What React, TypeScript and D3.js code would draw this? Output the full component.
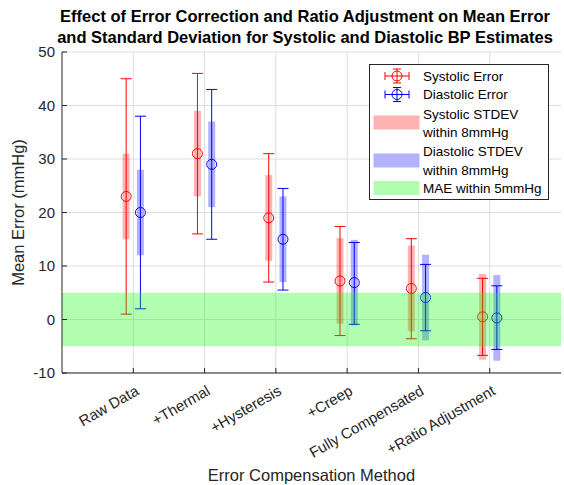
import React, {useEffect, useRef} from 'react';
import * as d3 from 'd3';

const categories = ['Raw Data', '+Thermal', '+Hysteresis', '+Creep', 'Fully Compensated', '+Ratio Adjustment'];

// systolic error: mean, lower / upper whisker ends
const sysMean = [23, 31, 19, 7.2, 5.8, 0.5];
const sysLow = [1, 16, 7, -3, -3.6, -6.7];
const sysHigh = [45, 46, 31, 17.4, 15.1, 7.7];
const sysStd = [8, 8, 8, 8, 8, 8];

// diastolic error
const diaMean = [20, 29, 15, 6.9, 4.1, 0.3];
const diaLow = [2, 15, 5.5, -0.9, -2.1, -5.6];
const diaHigh = [38, 43, 24.5, 14.4, 10.3, 6.3];
const diaStd = [8, 8, 8, 8, 8, 8];

const yTicks = [-10, 0, 10, 20, 30, 40, 50];
const maeBand = [-5, 5];

const FONT = '"Liberation Sans", Arial, Helvetica, sans-serif';

const App = () => {
    const ref = useRef<SVGSVGElement>(null);

    useEffect(() => {
        const width = 564, height = 485;
        const margin = {top: 52, left: 62, bottom: 112, right: 3};
        const svg = d3.select(ref.current);
        svg.selectAll('*').remove();
        svg.attr('width', width).attr('height', height);

        const x = d3.scaleLinear().domain([0, categories.length + 1]).range([margin.left, width - margin.right]);
        const y = d3.scaleLinear().domain([-10, 50]).range([height - margin.bottom, margin.top]);
        const off = 0.1;
        const cap = 5.5;

        // grid
        const grid = svg.append('g').attr('stroke', '#dedede').attr('stroke-width', 1);
        yTicks.forEach(t => {
            grid.append('line').attr('x1', x(0)).attr('x2', x(7)).attr('y1', y(t)).attr('y2', y(t));
        });
        categories.forEach((c, i) => {
            grid.append('line').attr('x1', x(i + 1)).attr('x2', x(i + 1)).attr('y1', y(-10)).attr('y2', y(50));
        });

        const series = [
            {mean: sysMean, low: sysLow, high: sysHigh, std: sysStd, color: '#ff0000', band: 'rgba(255,0,0,0.3)', dx: -off},
            {mean: diaMean, low: diaLow, high: diaHigh, std: diaStd, color: '#0000ff', band: 'rgba(0,0,255,0.3)', dx: off},
        ];

        // error bars
        series.forEach(s => {
            const g = svg.append('g').attr('stroke', s.color).attr('fill', 'none').attr('stroke-width', 1);
            s.mean.forEach((m, i) => {
                const cx = x(i + 1 + s.dx);
                g.append('line').attr('x1', cx).attr('x2', cx).attr('y1', y(s.low[i])).attr('y2', y(s.high[i]));
                g.append('line').attr('x1', cx - cap).attr('x2', cx + cap).attr('y1', y(s.low[i])).attr('y2', y(s.low[i]));
                g.append('line').attr('x1', cx - cap).attr('x2', cx + cap).attr('y1', y(s.high[i])).attr('y2', y(s.high[i]));
                g.append('circle').attr('cx', cx).attr('cy', y(m)).attr('r', 5);
            });
        });

        // stdev bands
        series.forEach(s => {
            s.mean.forEach((m, i) => {
                const cx = x(i + 1 + s.dx);
                svg.append('rect')
                    .attr('x', cx - 3.5).attr('width', 7)
                    .attr('y', y(m + s.std[i])).attr('height', y(m - s.std[i]) - y(m + s.std[i]))
                    .attr('fill', s.band);
            });
        });

        // MAE band
        svg.append('rect')
            .attr('x', x(0)).attr('width', x(7) - x(0))
            .attr('y', y(maeBand[1])).attr('height', y(maeBand[0]) - y(maeBand[1]))
            .attr('fill', 'rgba(0,255,0,0.3)');

        // axes
        const axis = svg.append('g').attr('stroke', '#262626').attr('stroke-width', 1);
        axis.append('line').attr('x1', x(0)).attr('x2', x(0)).attr('y1', y(-10)).attr('y2', y(50));
        axis.append('line').attr('x1', x(0)).attr('x2', x(7)).attr('y1', y(-10)).attr('y2', y(-10));
        yTicks.forEach(t => {
            axis.append('line').attr('x1', x(0)).attr('x2', x(0) + 5).attr('y1', y(t)).attr('y2', y(t));
        });
        categories.forEach((c, i) => {
            axis.append('line').attr('x1', x(i + 1)).attr('x2', x(i + 1)).attr('y1', y(-10)).attr('y2', y(-10) - 5);
        });

        const txt = svg.append('g').attr('font-family', FONT).attr('fill', '#262626');
        yTicks.forEach(t => {
            txt.append('text').attr('x', x(0) - 7).attr('y', y(t)).attr('dy', '0.35em')
                .attr('text-anchor', 'end').attr('font-size', 15).text(t);
        });
        categories.forEach((c, i) => {
            txt.append('text')
                .attr('transform', `translate(${x(i + 1) + 1},${y(-10) + 11}) rotate(-30)`)
                .attr('text-anchor', 'end').attr('dy', '0.75em').attr('font-size', 15).text(c);
        });
        txt.append('text').attr('x', (x(0) + x(7)) / 2).attr('y', 481)
            .attr('text-anchor', 'middle').attr('font-size', 16.5).text('Error Compensation Method');
        txt.append('text').attr('transform', `translate(24,${(y(-10) + y(50)) / 2}) rotate(-90)`)
            .attr('text-anchor', 'middle').attr('font-size', 16.5).text('Mean Error (mmHg)');

        const title = svg.append('g').attr('font-family', FONT).attr('font-weight', 'bold')
            .attr('font-size', 16.5).attr('fill', '#000').attr('text-anchor', 'middle');
        title.append('text').attr('x', 305).attr('y', 22)
            .text('Effect of Error Correction and Ratio Adjustment on Mean Error');
        title.append('text').attr('x', 305).attr('y', 43)
            .text('and Standard Deviation for Systolic and Diastolic BP Estimates');

        // legend
        const lg = svg.append('g');
        lg.append('rect').attr('x', 369.5).attr('y', 64.5).attr('width', 179).attr('height', 135)
            .attr('fill', '#fff').attr('stroke', '#262626');
        const lx = 397;
        const errIcon = (cy: number, color: string) => {
            const g = lg.append('g').attr('stroke', color).attr('fill', 'none');
            g.append('line').attr('x1', lx - 12).attr('x2', lx + 12).attr('y1', cy).attr('y2', cy);
            g.append('line').attr('x1', lx - 12).attr('x2', lx - 12).attr('y1', cy - 4).attr('y2', cy + 4);
            g.append('line').attr('x1', lx + 12).attr('x2', lx + 12).attr('y1', cy - 4).attr('y2', cy + 4);
            g.append('line').attr('x1', lx).attr('x2', lx).attr('y1', cy - 7).attr('y2', cy + 7);
            g.append('line').attr('x1', lx - 4).attr('x2', lx + 4).attr('y1', cy - 7).attr('y2', cy - 7);
            g.append('line').attr('x1', lx - 4).attr('x2', lx + 4).attr('y1', cy + 7).attr('y2', cy + 7);
            g.append('circle').attr('cx', lx).attr('cy', cy).attr('r', 5);
        };
        const patch = (cy: number, fill: string) => {
            lg.append('rect').attr('x', 373.5).attr('y', cy - 7).attr('width', 46).attr('height', 14).attr('fill', fill);
        };
        errIcon(76, '#ff0000');
        errIcon(94.5, '#0000ff');
        patch(122.5, 'rgba(255,0,0,0.3)');
        patch(160.5, 'rgba(0,0,255,0.3)');
        patch(188, 'rgba(0,255,0,0.3)');
        const lt = lg.append('g').attr('font-family', FONT).attr('font-size', 13.5).attr('fill', '#000');
        const lines: [string, number][] = [
            ['Systolic Error', 76], ['Diastolic Error', 94.5], ['Systolic STDEV', 114], ['within 8mmHg', 132.5],
            ['Diastolic STDEV', 151.5], ['within 8mmHg', 170], ['MAE within 5mmHg', 188.5],
        ];
        lines.forEach(([t, yy]) => {
            lt.append('text').attr('x', 423).attr('y', yy).attr('dy', '0.35em').text(t);
        });
    }, []);

    return (
        <div>
            <svg ref={ref} style={{position: 'absolute', left: 0, top: 0}}/>
        </div>
    );
};

export default App;
